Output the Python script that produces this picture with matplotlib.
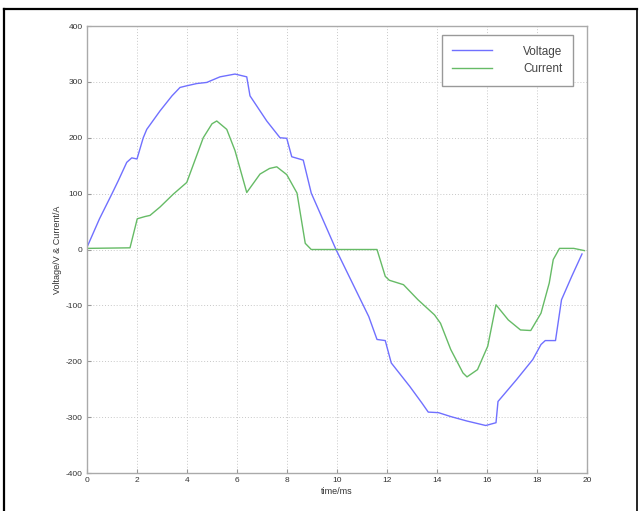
# tension et courant - reproduction de la figure

import numpy as np
import matplotlib
matplotlib.use('Agg')
import matplotlib.pyplot as plt
from matplotlib.lines import Line2D

plt.rcParams['font.family'] = ['Liberation Sans', 'DejaVu Sans']
plt.rcParams['axes.unicode_minus'] = False

# donnees
t_v = [0, 0.5, 0.99, 1.25, 1.59, 1.79, 2.0, 2.25, 2.39, 2.92, 3.4, 3.72, 3.99, 4.39, 4.79,
       5.32, 5.92, 6.39, 6.52, 7.19, 7.72, 7.99, 8.19, 8.65, 8.97, 9.96, 11.27,
       11.6, 11.93, 12.17, 12.91, 13.4, 13.65, 14.06, 14.55, 15.2, 15.95, 16.36, 16.44,
       17.18, 17.83, 18.16, 18.33, 18.74, 18.98, 19.39, 19.8]
voltage = [4, 55, 99, 123, 156, 164, 162, 200, 215, 248, 275, 290, 293, 297, 299,
           309, 314, 309, 275, 230, 200, 199, 166, 160, 101, 0, -120,
           -161, -163, -203, -245, -275, -291, -292, -299, -307, -315, -310, -272,
           -233, -197, -170, -163, -163, -90, -48, -8]

t_i = [0, 1.72, 2.01, 2.32, 2.52, 2.92, 3.45, 3.99, 4.65, 5.0, 5.19, 5.59, 5.92,
       6.39, 6.92, 7.3, 7.59, 7.99, 8.4, 8.73, 8.97, 11.6, 11.93, 12.09, 12.66,
       13.24, 13.9, 14.14, 14.55, 15.04, 15.2, 15.62, 16.03, 16.36, 16.85,
       17.34, 17.75, 18.16, 18.49, 18.65, 18.9, 19.47, 19.9]
current = [2, 3, 55, 59, 61, 76, 99, 120, 200, 225, 230, 215, 177,
           102, 135, 145, 148, 134, 101, 11, 0, 0, -48, -55, -63,
           -90, -117, -132, -179, -221, -228, -215, -173, -99, -126,
           -144, -145, -114, -60, -18, 2, 2, -2]

xticks = np.arange(0, 21, 2)
yticks = np.arange(-400, 401, 100)

fig = plt.figure(figsize=(6.43, 5.11), dpi=100)
ax = fig.add_axes([87/643, 38/511, 500/643, 447/511])

ax.plot(t_v, voltage, color='#7070ff', lw=1.0, label='Voltage')
ax.plot(t_i, current, color='#66bb66', lw=1.0, label='Current')

ax.set_xlim(0, 20)
ax.set_ylim(-400, 400)
ax.set_xticks(xticks)
ax.set_yticks(yticks)
ax.set_xticklabels([str(v) for v in xticks])
ax.set_yticklabels([str(v) for v in yticks])
ax.grid(True, linestyle=(0, (1, 2)), color='#c8c8c8', lw=0.7)
ax.tick_params(direction='in', length=3, labelsize=6, colors='#999999',
               labelcolor='#333333', pad=3)
for s in ax.spines.values():
    s.set_color('#aaaaaa')
    s.set_linewidth(1.0)

ax.set_xlabel('time/ms', fontsize=6.5, color='#333333', labelpad=2)
ax.set_ylabel('Voltage/V & Current/A', fontsize=6.5, color='#333333', labelpad=3)

leg = ax.legend(loc='upper right', bbox_to_anchor=(0.972, 0.980),
                borderaxespad=0, fontsize=8.5, handlelength=3.4,
                handletextpad=2.6, borderpad=0.9, labelspacing=0.45,
                fancybox=False, framealpha=1, edgecolor='#999999')
leg.get_frame().set_linewidth(1.0)
for txt in leg.get_texts():
    txt.set_color('#444444')

# cadre noir autour de la figure
W, H = 643, 511
fig.add_artist(Line2D([4/W, 4/W], [0, 1 - 9/H], color='black', lw=1.6))
fig.add_artist(Line2D([4/W, 637/W], [1 - 9/H, 1 - 9/H], color='black', lw=1.6))
fig.add_artist(Line2D([637/W, 637/W], [0, 1 - 9/H], color='black', lw=1.2))

plt.savefig('out.png', dpi=100)
